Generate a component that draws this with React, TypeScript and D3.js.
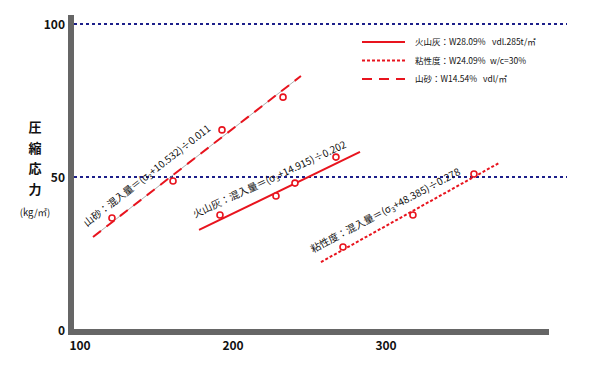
import React from "react";
import * as d3 from "d3";

const sandPoints = [
  { x: 120.9, y: 36.6 },
  { x: 160.8, y: 48.7 },
  { x: 192.8, y: 65.4 },
  { x: 232.7, y: 76.1 },
];
const sandLine = [
  { x: 108.5, y: 30.4 },
  { x: 244.4, y: 83.0 },
];
const ashPoints = [
  { x: 191.5, y: 37.6 },
  { x: 228.1, y: 43.8 },
  { x: 240.5, y: 48.0 },
  { x: 267.3, y: 56.5 },
];
const ashLine = [
  { x: 177.8, y: 32.7 },
  { x: 283.0, y: 58.2 },
];
const viscPoints = [
  { x: 271.9, y: 27.1 },
  { x: 317.6, y: 37.6 },
  { x: 357.5, y: 51.0 },
];
const viscLine = [
  { x: 257.5, y: 22.2 },
  { x: 373.9, y: 54.6 },
];
const xTicks = [100, 200, 300];
const yTicks = [0, 50, 100];
const gridLines = [50, 100];
const yLabelChars = ["圧", "縮", "応", "力"];
const yLabelUnit = "(kg/㎡)";
const legendItems = [
  { name: "火山灰：W28.09%", note: "vdl.285t/㎡", style: "solid" },
  { name: "粘性度：W24.09%", note: "w/c=30%", style: "dotted" },
  { name: "山砂：W14.54%", note: "vdl/㎡", style: "dashed" },
];
const formulas = [
  { pre: "山砂：混入量＝(σ", post: "+10.532)÷0.011" },
  { pre: "火山灰：混入量＝(σ", post: "+14.915)÷0.202" },
  { pre: "粘性度：混入量＝(σ", post: "+48.385)÷0.278" },
];

const RED = "#e8141e";
const NAVY = "#1c1f8a";
const GRAY = "#666666";
const FONT = "'Noto Sans CJK JP', 'Noto Sans', sans-serif";

export default function App() {
  const W = 600;
  const H = 381;
  const x = d3.scaleLinear().domain([100, 300]).range([80, 386]);
  const y = d3.scaleLinear().domain([0, 100]).range([330, 24]);
  const line = d3
    .line<{ x: number; y: number }>()
    .x((d) => x(d.x))
    .y((d) => y(d.y));

  const dashStyles: Record<string, string | undefined> = {
    solid: undefined,
    dotted: "3,2",
    dashed: "10,7",
  };

  const formulaPlacements = [
    { px: 87, py: 227, angle: -38 },
    { px: 195, py: 218, angle: -25 },
    { px: 313, py: 253, angle: -28 },
  ];

  return (
    <svg
      width={W}
      height={H}
      style={{ display: "block", position: "absolute", left: 0, top: 0 }}
      fontFamily={FONT}
    >
      <rect width={W} height={H} fill="#fff" />
      {gridLines.map((g) => (
        <line
          key={g}
          x1={74}
          x2={567}
          y1={y(g)}
          y2={y(g)}
          stroke={NAVY}
          strokeWidth={2}
          strokeDasharray="3,3"
        />
      ))}
      <rect x={68} y={15} width={6} height={320} fill={GRAY} />
      <rect x={68} y={329} width={481} height={6} fill={GRAY} />
      {yTicks.map((t) => (
        <text
          key={t}
          x={65}
          y={y(t) + 4.5}
          textAnchor="end"
          fontSize={12}
          fontWeight="bold"
          fill="#111"
        >
          {t}
        </text>
      ))}
      {xTicks.map((t) => (
        <text
          key={t}
          x={x(t)}
          y={350}
          textAnchor="middle"
          fontSize={12}
          fontWeight="bold"
          fill="#111"
        >
          {t}
        </text>
      ))}
      {yLabelChars.map((c, i) => (
        <text
          key={c}
          x={35}
          y={132 + i * 20.5}
          textAnchor="middle"
          fontSize={13}
          fontWeight="bold"
          fill="#111"
        >
          {c}
        </text>
      ))}
      <text x={35} y={216} textAnchor="middle" fontSize={9.5} fill="#111">
        {yLabelUnit}
      </text>

      <path d={line(sandLine) || ""} stroke="#999" strokeWidth={0.8} fill="none" />
      <path
        d={line(sandLine) || ""}
        stroke={RED}
        strokeWidth={2}
        fill="none"
        strokeDasharray="10,7"
      />
      <path d={line(ashLine) || ""} stroke={RED} strokeWidth={2} fill="none" />
      <path
        d={line(viscLine) || ""}
        stroke={RED}
        strokeWidth={2}
        fill="none"
        strokeDasharray="3,2"
      />
      {[...sandPoints, ...ashPoints, ...viscPoints].map((p, i) => (
        <circle
          key={i}
          cx={x(p.x)}
          cy={y(p.y)}
          r={3}
          fill="#fff"
          stroke={RED}
          strokeWidth={1.6}
        />
      ))}

      {formulas.map((f, i) => {
        const pl = formulaPlacements[i];
        return (
          <text
            key={i}
            transform={`translate(${pl.px},${pl.py}) rotate(${pl.angle})`}
            fontSize={10}
            fill="#111"
          >
            {f.pre}
            <tspan fontSize={7} dy={2}>
              3
            </tspan>
            <tspan dy={-2}>{f.post}</tspan>
          </text>
        );
      })}

      {legendItems.map((l, i) => {
        const ly = 42 + i * 18.5;
        return (
          <g key={i}>
            <line
              x1={362}
              x2={405}
              y1={ly}
              y2={ly}
              stroke={RED}
              strokeWidth={2.2}
              strokeDasharray={dashStyles[l.style]}
            />
            <text x={415} y={ly + 3} fontSize={8.5} fill="#111">
              {l.name}
            </text>
            <text
              x={[492, 490, 483][i]}
              y={ly + 3}
              fontSize={8.5}
              fill="#111"
            >
              {l.note}
            </text>
          </g>
        );
      })}
    </svg>
  );
}
